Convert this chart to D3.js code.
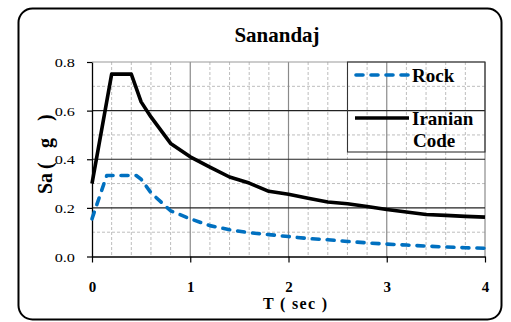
<!DOCTYPE html>
<html>
<head>
<meta charset="utf-8">
<script src="https://cdn.jsdelivr.net/npm/d3@7"></script>
<style>
  html, body { margin: 0; padding: 0; background: #fff; }
  svg { display: block; }
</style>
</head>
<body>
<svg id="chart" width="511" height="322"></svg>
<script>
// Spectral acceleration, Sanandaj: period T (sec) vs Sa (g)
const codePeriods = [0, 0.2, 0.4, 0.5, 0.6, 0.8, 1.0, 1.2, 1.4, 1.6, 1.8, 2.0, 2.2, 2.4, 2.6, 2.8, 3.0, 3.2, 3.4, 3.6, 3.8, 4.0];
const codeSa      = [0.30, 0.75, 0.75, 0.636, 0.574, 0.465, 0.41, 0.368, 0.327, 0.302, 0.268, 0.256, 0.24, 0.224, 0.217, 0.206, 0.193, 0.183, 0.173, 0.169, 0.165, 0.162];

const rockPeriods = [0, 0.15, 0.45, 0.5, 0.6, 0.8, 1.0, 1.2, 1.4, 1.6, 1.8, 2.0, 2.2, 2.4, 2.6, 2.8, 3.0, 3.2, 3.4, 3.6, 3.8, 4.0];
const rockSa      = [0.155, 0.333, 0.333, 0.318, 0.262, 0.188, 0.155, 0.127, 0.11, 0.098, 0.09, 0.082, 0.074, 0.069, 0.062, 0.056, 0.051, 0.047, 0.043, 0.039, 0.036, 0.034];

const xTickValues = [0, 1, 2, 3, 4];
const yTickValues = [0, 0.2, 0.4, 0.6, 0.8];

const seriesNames = ["Rock", "Iranian Code"];
const titleText = "Sanandaj";
const xLabel = "T ( sec )";
const yLabelParts = ["Sa", "(", "g", ")"];

const SERIF = "'Liberation Serif', 'Times New Roman', serif";

const svg = d3.select("#chart");
const plot = { left: 92, right: 485, top: 62, bottom: 256.5 };

const x = d3.scaleLinear().domain([0, 4]).range([plot.left, plot.right]);
const y = d3.scaleLinear().domain([0, 0.8]).range([plot.bottom, plot.top]);

function label(sel, size, bold) {
  return sel.style("font-family", SERIF)
    .style("font-size", size + "px")
    .style("font-weight", bold ? "bold" : "normal")
    .style("fill", "#000");
}

// Outer rounded frame
svg.append("rect")
  .attr("x", 18.5).attr("y", 8.5)
  .attr("width", 483).attr("height", 311)
  .attr("rx", 14).attr("ry", 14)
  .attr("fill", "#fff").attr("stroke", "#000").attr("stroke-width", 2);

// Title
label(svg.append("text"), 21, true)
  .attr("x", 277).attr("y", 41.5)
  .attr("text-anchor", "middle")
  .text(titleText);

const grid = svg.append("g");

// Minor dashed grid
const minorX = d3.range(0.2, 4, 0.2).filter(v => Math.abs(v - Math.round(v)) > 1e-6);
const minorY = d3.range(0.1, 0.8, 0.2);
grid.selectAll("line.mx").data(minorX).join("line")
  .attr("x1", d => x(d)).attr("x2", d => x(d))
  .attr("y1", plot.top).attr("y2", plot.bottom)
  .attr("stroke", "#bdbdbd").attr("stroke-width", 1).attr("stroke-dasharray", "3,2");
grid.selectAll("line.my").data(minorY).join("line")
  .attr("x1", plot.left).attr("x2", plot.right)
  .attr("y1", d => y(d)).attr("y2", d => y(d))
  .attr("stroke", "#bdbdbd").attr("stroke-width", 1).attr("stroke-dasharray", "3,2");

// Major grid
grid.selectAll("line.MX").data([1, 2, 3, 4]).join("line")
  .attr("x1", d => x(d)).attr("x2", d => x(d))
  .attr("y1", plot.top).attr("y2", plot.bottom)
  .attr("stroke", "#8a8a8a").attr("stroke-width", 1.2);
grid.selectAll("line.MY").data([0.2, 0.4, 0.6]).join("line")
  .attr("x1", plot.left).attr("x2", plot.right)
  .attr("y1", d => y(d)).attr("y2", d => y(d))
  .attr("stroke", "#222").attr("stroke-width", 1.1);
grid.append("line")
  .attr("x1", plot.left).attr("x2", plot.right)
  .attr("y1", y(0.8)).attr("y2", y(0.8))
  .attr("stroke", "#9a9a9a").attr("stroke-width", 1.2);

// Axes
const yAxis = svg.append("g")
  .attr("transform", `translate(${plot.left},0)`)
  .call(d3.axisLeft(y).tickValues(yTickValues).tickFormat(d3.format(".1f")).tickSize(5).tickSizeOuter(0));
yAxis.select(".domain").attr("stroke", "#000").attr("stroke-width", 1.3);
yAxis.selectAll(".tick line").attr("stroke", "#000").attr("stroke-width", 1.2);
label(yAxis.selectAll(".tick text"), 13, false)
  .attr("x", -17 / 1.25)
  .attr("transform", "scale(1.25,1)")
  .attr("dy", "0.36em");

const xAxis = svg.append("g")
  .attr("transform", `translate(0,${plot.bottom})`)
  .call(d3.axisBottom(x).tickValues(xTickValues).tickFormat(d3.format("d")).tickSize(6).tickSizeOuter(0));
xAxis.select(".domain").attr("stroke", "#000").attr("stroke-width", 1.3);
xAxis.selectAll(".tick line").attr("stroke", "#000").attr("stroke-width", 1.2);
label(xAxis.selectAll(".tick text"), 15, true)
  .attr("y", 35).attr("dy", 0);

// Axis titles
label(svg.append("text"), 16, true)
  .attr("x", 295).attr("y", 309)
  .attr("text-anchor", "middle")
  .attr("textLength", 64).attr("lengthAdjust", "spacing")
  .text(xLabel);

// Vertical axis title, spaced as "Sa ( g )", reading upward
const yTitle = label(svg.append("text"), 20, true)
  .attr("transform", "translate(51.5,194) rotate(-90)");
const yTitleOffsets = [0, 25, 46, 73];
yTitle.selectAll("tspan").data(yLabelParts).join("tspan")
  .attr("x", (d, i) => yTitleOffsets[i])
  .attr("y", 0)
  .text(d => d);

// Series
const line = d3.line().x(d => x(d[0])).y(d => y(d[1]));
const codeData = d3.zip(codePeriods, codeSa);
const rockData = d3.zip(rockPeriods, rockSa);

svg.append("path")
  .datum(codeData)
  .attr("d", line)
  .attr("fill", "none")
  .attr("stroke", "#000").attr("stroke-width", 3.6)
  .attr("stroke-linejoin", "round");

svg.append("path")
  .datum(rockData)
  .attr("d", line)
  .attr("fill", "none")
  .attr("stroke", "#0070C0").attr("stroke-width", 3.6)
  .attr("stroke-linecap", "round").attr("stroke-linejoin", "round")
  .attr("stroke-dasharray", "7,8");

// Legend
const legend = svg.append("g");
legend.append("rect")
  .attr("x", 347.5).attr("y", plot.top)
  .attr("width", plot.right - 347.5).attr("height", 90)
  .attr("fill", "none").attr("stroke", "#333").attr("stroke-width", 1.1);

legend.append("line")
  .attr("x1", 356).attr("x2", 408).attr("y1", 75).attr("y2", 75)
  .attr("stroke", "#0070C0").attr("stroke-width", 3.6)
  .attr("stroke-linecap", "round").attr("stroke-dasharray", "7,8");
label(legend.append("text"), 19, true)
  .attr("x", 412).attr("y", 81.5)
  .text(seriesNames[0]);

legend.append("line")
  .attr("x1", 355).attr("x2", 409).attr("y1", 118).attr("y2", 118)
  .attr("stroke", "#000").attr("stroke-width", 3.6);
const codeWords = seriesNames[1].split(" ");
label(legend.append("text"), 19, true)
  .attr("x", 412).attr("y", 124.5)
  .text(codeWords[0]);
label(legend.append("text"), 19, true)
  .attr("x", 413).attr("y", 146.5)
  .text(codeWords[1]);
</script>
</body>
</html>
